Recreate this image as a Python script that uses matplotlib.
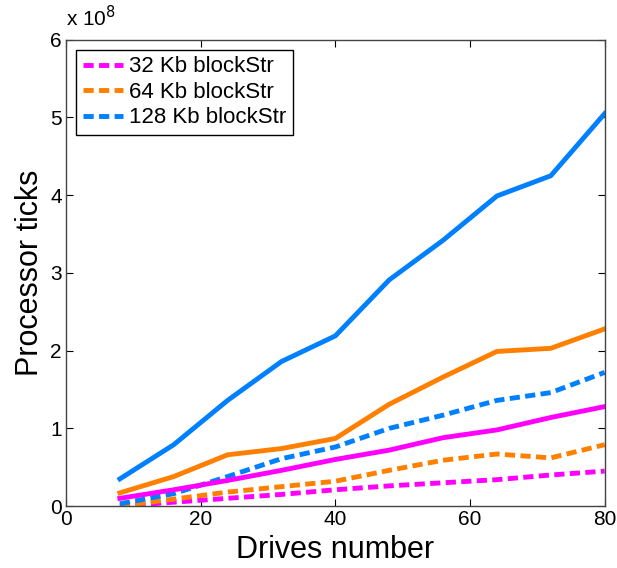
import matplotlib
matplotlib.use("Agg")
import matplotlib.pyplot as plt

plt.rcParams['font.family'] = ['Liberation Sans', 'DejaVu Sans']

# 数据 (单位: 1e8 processor ticks)
drives = [8, 16, 24, 32, 40, 48, 56, 64, 72, 80]

solid_32 = [0.10, 0.21, 0.33, 0.46, 0.60, 0.72, 0.88, 0.98, 1.14, 1.28]
solid_64 = [0.17, 0.38, 0.66, 0.74, 0.87, 1.31, 1.66, 1.99, 2.03, 2.28]
solid_128 = [0.35, 0.79, 1.36, 1.86, 2.19, 2.91, 3.42, 3.99, 4.25, 5.05]

dash_32 = [0.00, 0.05, 0.10, 0.15, 0.21, 0.26, 0.30, 0.34, 0.40, 0.45]
dash_64 = [0.00, 0.09, 0.18, 0.25, 0.32, 0.46, 0.59, 0.67, 0.62, 0.79]
dash_128 = [0.03, 0.16, 0.38, 0.61, 0.76, 1.00, 1.17, 1.36, 1.46, 1.72]

labels = ['32 Kb blockStr', '64 Kb blockStr', '128 Kb blockStr']
colors = ['#FF00FF', '#FF8000', '#0080FF']

fig = plt.figure(figsize=(6.17, 5.68), dpi=100)
ax = fig.add_axes([0.107, 0.109, 0.873, 0.821])

lw = 3.5
for ys, c, lab in zip([dash_32, dash_64, dash_128], colors, labels):
    ax.plot(drives, ys, color=c, lw=lw, ls=(0, (2.1, 1.1)), label=lab)
for ys, c in zip([solid_32, solid_64, solid_128], colors):
    ax.plot(drives, ys, color=c, lw=lw)

ax.set_xlim(0, 80)
ax.set_ylim(0, 6)
ax.set_xticks([0, 20, 40, 60, 80])
ax.set_yticks([0, 1, 2, 3, 4, 5, 6])
ax.tick_params(direction='in', top=True, right=True, labelsize=15, length=5, pad=3)
for sp in ax.spines.values():
    sp.set_color('#444444')
    sp.set_linewidth(1.0)

ax.set_xlabel('Drives number', fontsize=22, labelpad=4)
ax.set_ylabel('Processor ticks', fontsize=22, labelpad=4)
ax.text(0.0, 1.02, r'x 10$^8$', transform=ax.transAxes, fontsize=15,
        ha='left', va='bottom')

leg = ax.legend(loc='upper left', fontsize=16, handlelength=1.8, handletextpad=0.3,
                borderpad=0.3, labelspacing=0.2, borderaxespad=0.45,
                fancybox=False, framealpha=1, edgecolor='black')
leg.get_frame().set_linewidth(1.0)

plt.savefig('out.png', dpi=100)
